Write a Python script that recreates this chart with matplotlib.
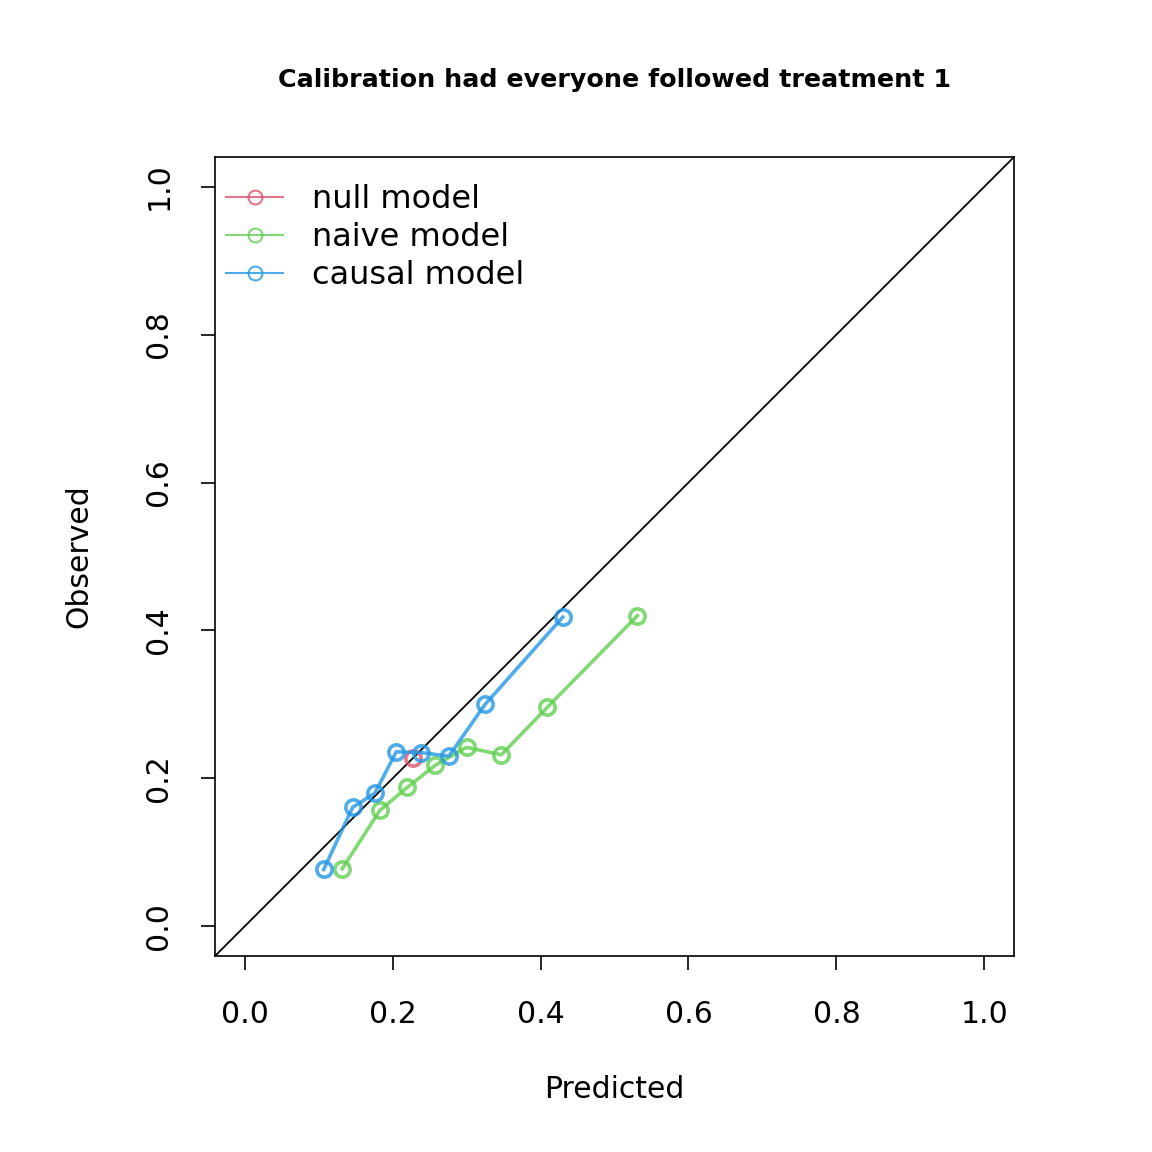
import matplotlib
matplotlib.use("Agg")
import matplotlib.pyplot as plt
from matplotlib.lines import Line2D

causal_x = [0.107, 0.146, 0.176, 0.205, 0.239, 0.276, 0.325, 0.430]
causal_y = [0.077, 0.161, 0.180, 0.236, 0.235, 0.230, 0.300, 0.418]
naive_x = [0.132, 0.183, 0.220, 0.258, 0.300, 0.347, 0.409, 0.531]
naive_y = [0.078, 0.157, 0.188, 0.218, 0.242, 0.232, 0.296, 0.420]
null_x = [0.227]
null_y = [0.227]
ticks = [0.0, 0.2, 0.4, 0.6, 0.8, 1.0]
labels = ["null model", "naive model", "causal model"]

c_null = (0xDF/255, 0x53/255, 0x6B/255, 0.8)
c_naive = (0x61/255, 0xD0/255, 0x4F/255, 0.8)
c_causal = (0x22/255, 0x97/255, 0xE6/255, 0.8)

plt.rcParams['font.family'] = ['DejaVu Sans']
fig = plt.figure(figsize=(11.52, 11.52), dpi=100)
ax = fig.add_axes([215/1152, 1-956/1152, (1014-215)/1152, (956-157)/1152])
ax.set_xlim(-0.04, 1.04)
ax.set_ylim(-0.04, 1.04)
ax.plot([-0.04, 1.04], [-0.04, 1.04], color='black', lw=1.3)

mk = dict(marker='o', markersize=11, markerfacecolor='none', markeredgewidth=2.6, lw=2.6)
ax.plot(null_x, null_y, color=c_null, **mk)
ax.plot(naive_x, naive_y, color=c_naive, **mk)
ax.plot(causal_x, causal_y, color=c_causal, **mk)

ax.set_xticks(ticks)
ax.set_yticks(ticks)
ax.set_xticklabels([f"{t:.1f}" for t in ticks], fontsize=21.5)
ax.set_yticklabels([f"{t:.1f}" for t in ticks], fontsize=21.5, rotation=90, va='center')
ax.tick_params(axis='x', length=10, width=1.2, pad=22)
ax.tick_params(axis='y', length=10, width=1.2, pad=20)
for s in ax.spines.values():
    s.set_linewidth(1.2)
ax.set_xlabel("Predicted", fontsize=21.5, labelpad=33)
ax.set_ylabel("Observed", fontsize=21.5, labelpad=37)
fig.text(614/1152, 1-80/1152, "Calibration had everyone followed treatment 1",
         fontsize=18.3, fontweight='bold', ha='center', va='center')

handles = [Line2D([0], [0], color=c, marker='o', markersize=10, markerfacecolor='none',
                  markeredgewidth=1.5, lw=1.5) for c in (c_null, c_naive, c_causal)]
ax.legend(handles, labels, loc='upper left', frameon=False, fontsize=23,
          bbox_to_anchor=(0.0, 0.980), handlelength=1.79, labelspacing=0.22,
          handletextpad=0.9, borderaxespad=0.15, borderpad=0.2)

fig.savefig("out.png", dpi=100)
